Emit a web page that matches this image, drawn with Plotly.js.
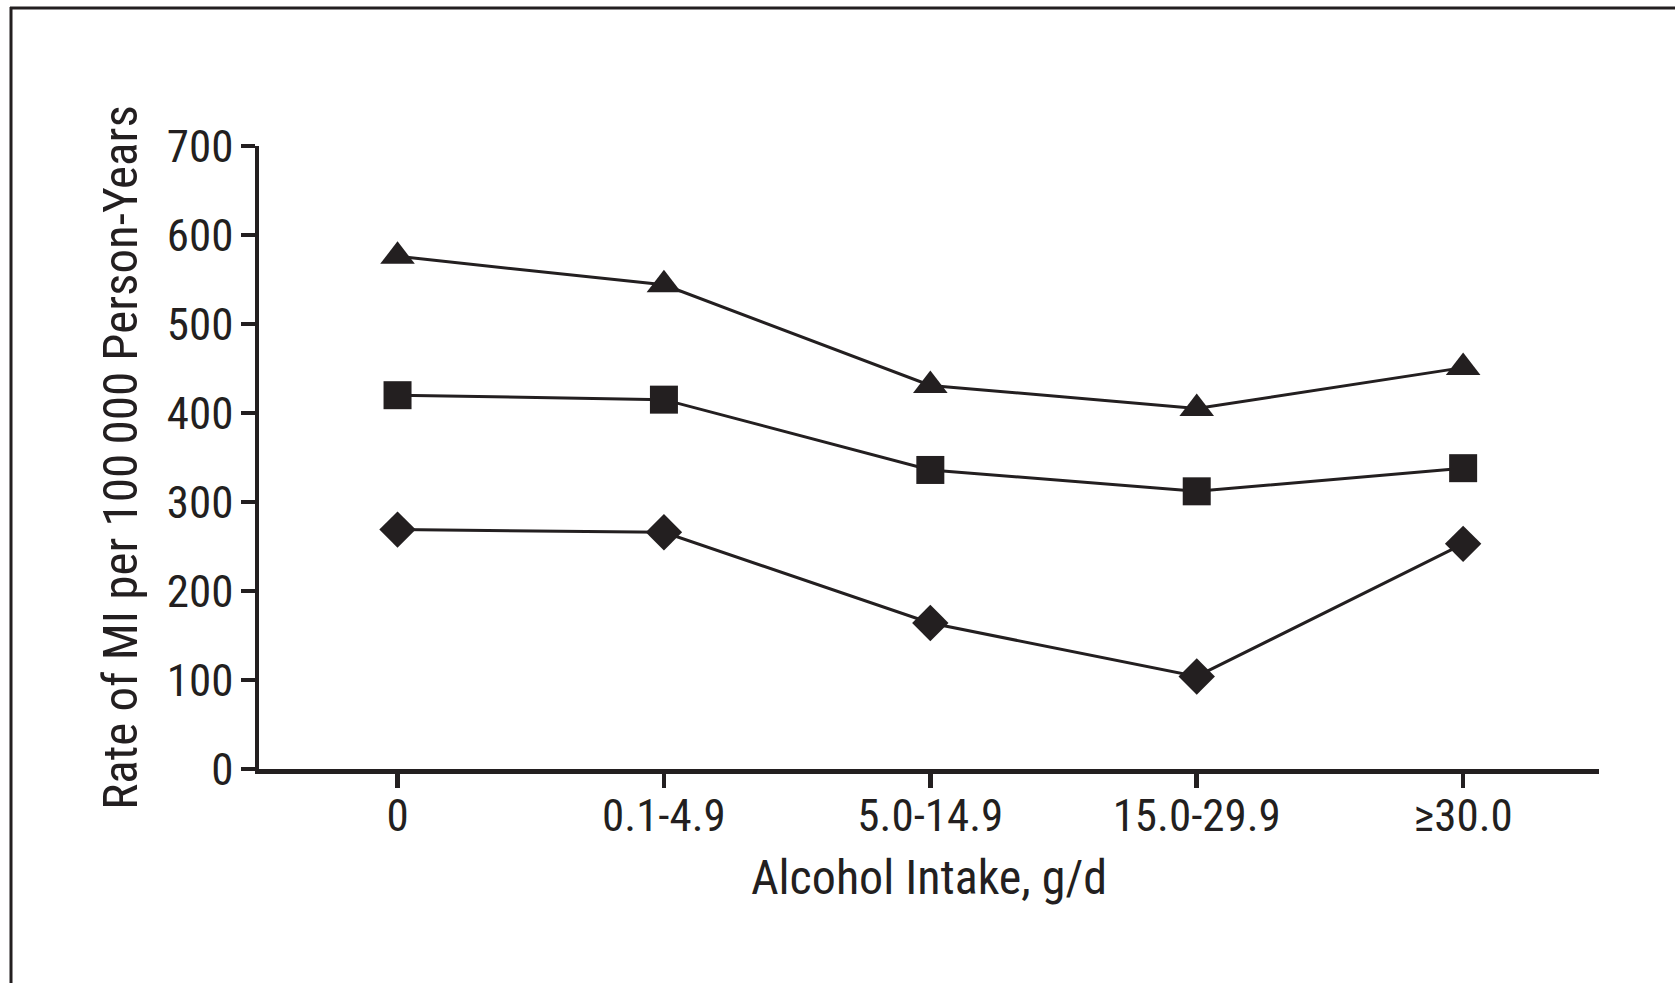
<!DOCTYPE html>
<html>
<head>
<meta charset="utf-8">
<script src="https://cdn.plot.ly/plotly-3.0.1.min.js"></script>
<style>
  html, body { margin: 0; padding: 0; background: #ffffff; }
  #chart { width: 1675px; height: 983px; }
</style>
</head>
<body>
<div id="chart"></div>
<script>
// ---- data ----
const categories = ["0", "0.1-4.9", "5.0-14.9", "15.0-29.9", "\u226530.0"];
const triangleSeries = [576, 544, 431, 405, 451];
const squareSeries   = [420, 415, 336, 312, 338];
const diamondSeries  = [269, 266, 164, 104, 253];
const yTickVals = [0, 100, 200, 300, 400, 500, 600, 700];

// ---- layout geometry ----
const W = 1675, H = 983;
const M = { l: 259, r: 76, t: 146, b: 214 };
const plotW = W - M.l - M.r, plotH = H - M.t - M.b;
const ink = "#231f20";
const fontFamily = "'Roboto Condensed', Roboto, sans-serif";

function px2paperX(px) { return (px - M.l) / plotW; }
function px2paperY(py) { return (H - M.b - py) / plotH; }

function series(y, symbol, size) {
  return {
    x: categories, y: y, type: "scatter", mode: "lines+markers",
    line: { color: ink, width: 3 },
    marker: { symbol: symbol, size: size, color: ink, line: { width: 0 } },
    showlegend: false, hoverinfo: "x+y", cliponaxis: false
  };
}

const data = [
  series(triangleSeries, "triangle-up", 30),
  series(squareSeries, "square", 28),
  series(diamondSeries, "diamond", 28)
];

const layout = {
  width: W, height: H,
  margin: M,
  paper_bgcolor: "#ffffff", plot_bgcolor: "#ffffff",
  font: { family: fontFamily, color: ink },
  xaxis: {
    type: "category",
    range: [-0.52, 4.51],
    showgrid: false, zeroline: false,
    showline: true, linecolor: ink, linewidth: 4.5,
    ticks: "outside", ticklen: 14, tickwidth: 4.5, tickcolor: ink,
    ticklabelstandoff: -11,
    tickfont: { family: fontFamily, size: 45, color: ink },
    title: { text: "Alcohol Intake, g/d", font: { family: fontFamily, size: 48, color: ink }, standoff: 21 },
    fixedrange: true
  },
  yaxis: {
    range: [0, 700],
    tickvals: yTickVals,
    showgrid: false, zeroline: false,
    showline: true, linecolor: ink, linewidth: 4.5,
    ticks: "outside", ticklen: 14, tickwidth: 4.5, tickcolor: ink,
    ticklabelstandoff: -2,
    tickfont: { family: fontFamily, size: 45, color: ink },
    title: { text: "Rate of MI per 100\u2009000 Person-Years", font: { family: fontFamily, size: 49, color: ink }, standoff: 15 },
    fixedrange: true
  },
  shapes: [
    // frame: top and left edges
    { type: "line", xref: "paper", yref: "paper",
      x0: px2paperX(10), x1: px2paperX(W + 5), y0: px2paperY(8), y1: px2paperY(8),
      line: { color: ink, width: 3 } },
    { type: "line", xref: "paper", yref: "paper",
      x0: px2paperX(11), x1: px2paperX(11), y0: px2paperY(7), y1: px2paperY(H + 5),
      line: { color: ink, width: 3 } }
  ]
};

Plotly.newPlot("chart", data, layout, { displayModeBar: false, staticPlot: true });
</script>
</body>
</html>
